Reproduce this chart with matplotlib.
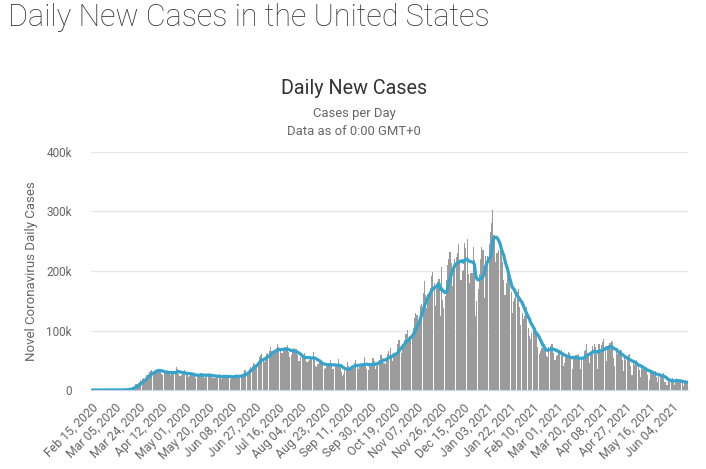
import datetime as dt

import matplotlib
matplotlib.use("Agg")
import matplotlib.pyplot as plt
import numpy as np
import pandas as pd

plt.rcParams["font.family"] = ["Roboto", "DejaVu Sans"]

# daily new cases in thousands, one row per week starting on a Saturday (Feb 15, 2020)
cases_k = [
    0, 0, 0, 0, 0, 0.002, 0,
    0.001, 0, 0, 0.003, 0.001, 0.002, 0.001,
    0.007, 0.008, 0.023, 0.021, 0.035, 0.048, 0.07,
    0.1, 0.14, 0.17, 0.27, 0.31, 0.42, 0.53,
    0.7, 0.8, 1.8, 1.8, 3.2, 4.8, 5.6,
    6.8, 9.3, 10.2, 11.0, 13.4, 17.2, 18.4,
    19.5, 19.0, 21.0, 26.0, 26.5, 29.5, 32.5,
    34, 28, 31, 33, 34, 35, 36,
    31, 27, 26, 28, 30, 31, 33,
    30, 26, 28, 27, 29, 32, 38,
    35, 27, 24, 25, 28, 30, 34,
    29, 26, 22, 23, 26, 29, 29,
    26, 20, 22, 23, 24, 29, 28,
    27, 21, 23, 22, 24, 29, 27,
    25, 20, 21, 20, 22, 25, 27,
    24, 19, 22, 21, 22, 24, 26,
    24, 19, 20, 20, 23, 25, 27,
    25, 20, 20, 23, 26, 28, 33,
    33, 27, 31, 36, 38, 40, 46,
    44, 42, 44, 49, 55, 58, 60,
    49, 47, 52, 61, 63, 66, 72,
    66, 59, 63, 67, 70, 77, 73,
    65, 62, 63, 68, 72, 73, 75,
    64, 55, 58, 65, 71, 69, 69,
    59, 48, 49, 55, 55, 58, 62,
    56, 47, 49, 51, 56, 55, 64,
    56, 41, 39, 44, 47, 46, 48,
    46, 35, 37, 40, 44, 46, 50,
    44, 35, 36, 40, 41, 44, 52,
    42, 31, 24, 27, 35, 37, 47,
    41, 35, 36, 39, 40, 45, 51,
    43, 36, 40, 41, 40, 46, 55,
    46, 36, 34, 43, 40, 46, 54,
    49, 36, 41, 43, 51, 59, 58,
    54, 45, 43, 53, 60, 65, 70,
    57, 49, 59, 61, 63, 77, 84,
    84, 62, 77, 76, 84, 94, 101,
    84, 91, 86, 93, 104, 121, 130,
    126, 110, 118, 141, 144, 163, 184,
    160, 137, 162, 164, 171, 192, 198,
    179, 142, 174, 181, 186, 124, 207,
    152, 138, 158, 185, 210, 220, 232,
    213, 175, 197, 221, 224, 231, 245,
    215, 185, 200, 202, 247, 238, 254,
    195, 180, 196, 197, 240, 218, 125,
    150, 170, 195, 220, 240, 235, 155,
    225, 215, 225, 245, 265, 280, 302,
    260, 215, 230, 230, 235, 250, 245,
    215, 185, 160, 180, 195, 190, 185,
    165, 130, 150, 155, 160, 165, 170,
    140, 110, 130, 120, 125, 130, 140,
    105, 90, 85, 95, 100, 105, 95,
    95, 72, 60, 65, 70, 70, 78,
    70, 57, 56, 72, 74, 77, 78,
    63, 50, 57, 59, 67, 68, 67,
    60, 41, 46, 57, 58, 64, 63,
    55, 36, 52, 53, 59, 59, 60,
    55, 36, 52, 53, 66, 67, 77,
    63, 45, 58, 64, 74, 77, 73,
    60, 35, 77, 64, 76, 80, 85,
    67, 48, 72, 76, 79, 82, 80,
    53, 41, 69, 60, 66, 66, 67,
    50, 32, 53, 50, 57, 58, 60,
    40, 25, 48, 42, 47, 50, 45,
    33, 22, 37, 35, 38, 37, 38,
    26, 17, 31, 28, 29, 30, 32,
    22, 13, 27, 23, 25, 24, 29,
    13, 8, 8, 17, 19, 18, 21,
    16, 8, 16, 14, 16, 17, 18,
    12, 7, 12, 13, 14,
]
start_date = dt.date(2020, 2, 15)
tick_step = 19

cases = np.array(cases_k) * 1000
dates = [start_date + dt.timedelta(days=i) for i in range(len(cases))]
avg7 = pd.Series(cases).rolling(7, min_periods=1).mean()
x = np.arange(len(cases))

W, H = 706, 469
fig = plt.figure(figsize=(W / 100, H / 100), dpi=100)
ax = fig.add_axes([91.4 / W, 79 / H, (687.6 - 91.4) / W, (390 - 152) / H])

ax.bar(x, cases, width=0.9, color="#9b9b9b", linewidth=0, zorder=2)
ax.plot(x, avg7, color="#35a4cd", lw=2.3, zorder=3, solid_capstyle="round")

ax.set_xlim(-0.5, len(cases) - 0.5)
ax.set_ylim(0, 400000)
ax.set_yticks([0, 100000, 200000, 300000, 400000])
ax.set_yticklabels(["0", "100k", "200k", "300k", "400k"])
ticks = x[::tick_step]
ax.set_xticks(ticks)
ax.set_xticklabels([dates[i].strftime("%b %d, %Y") for i in ticks],
                   rotation=45, ha="right", rotation_mode="anchor")
ax.tick_params(axis="x", length=0, pad=8, labelsize=8.8, colors="#666666")
ax.tick_params(axis="y", length=0, pad=14, labelsize=8.5, colors="#666666")

ax.grid(axis="y", color="#e6e6e6", lw=1, zorder=0)
for s in ["top", "right", "left"]:
    ax.spines[s].set_visible(False)
ax.spines["bottom"].set_color("#ccd6eb")
ax.spines["bottom"].set_zorder(4)

ax.set_ylabel("Novel Coronavirus Daily Cases", fontsize=9.5, color="#666666", labelpad=6)

fig.text(8 / W, 1 - 17 / H, "Daily New Cases in the United States", fontsize=22,
         color="#34353d", weight="light", va="center", ha="left")
fig.text(354 / W, 1 - 88 / H, "Daily New Cases", fontsize=14.2, color="#333333",
         ha="center", va="center")
fig.text(354 / W, 1 - 114 / H, "Cases per Day", fontsize=9.4, color="#666666",
         ha="center", va="center")
fig.text(354 / W, 1 - 131 / H, "Data as of 0:00 GMT+0", fontsize=9.4, color="#666666",
         ha="center", va="center")

fig.savefig("out.png", dpi=100)
